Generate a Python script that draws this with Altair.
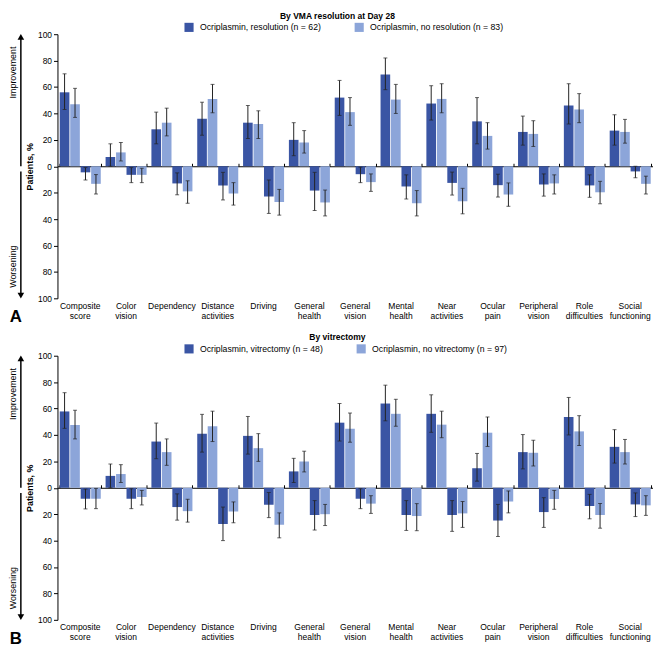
import altair as alt
import pandas as pd

categories = ["Composite score", "Color vision", "Dependency", "Distance activities",
              "Driving", "General health", "General vision", "Mental health",
              "Near activities", "Ocular pain", "Peripheral vision",
              "Role difficulties", "Social functioning"]

# ---------- Panel A: by VMA resolution at Day 28 ----------
a_labels = ["Ocriplasmin, resolution (n = 62)", "Ocriplasmin, no resolution (n = 83)"]
a_imp_dark = [56, 7, 28, 36, 33, 20, 52, 69.5, 47.5, 34, 26, 46, 27]
a_imp_dark_lo = [43, 0, 17, 23.5, 21, 8, 38.5, 58, 35, 17, 16, 32, 16]
a_imp_dark_hi = [70, 17, 41, 48.5, 46, 33, 65, 82, 61, 52, 38, 62.5, 39]
a_imp_light = [47, 10.5, 33, 51, 32, 18, 41, 50.5, 51, 23, 24.5, 43, 26]
a_imp_light_lo = [37, 4, 23, 40.5, 21, 10, 31, 40, 40.5, 13, 15, 33, 17.5]
a_imp_light_hi = [59, 18, 44, 62, 42, 27, 52, 62, 62.5, 33, 34.5, 55, 35.5]
a_wor_dark = [4.6, 6.5, 13, 14.5, 22.8, 18.4, 6, 15.3, 12.6, 14.3, 13.8, 14.5, 3.9]
a_wor_dark_lo = [1, 1, 5, 4.6, 10.4, 4.6, 0.7, 6.5, 4.4, 6, 5.8, 6.5, 0]
a_wor_dark_hi = [10.4, 12.4, 21.6, 25.5, 35.7, 33.5, 12.4, 24.8, 21.8, 23.3, 22.6, 23.5, 8.7]
a_wor_light = [13.3, 6.5, 19, 20.6, 27, 27.4, 12, 28, 26.5, 21.4, 13, 19.7, 13.3]
a_wor_light_lo = [6.3, 1.5, 11, 12.4, 17.5, 18, 5.8, 18.4, 16.7, 12.6, 6.5, 11.4, 7.5]
a_wor_light_hi = [21, 12.4, 28, 29.4, 37, 37.6, 19, 37.6, 36, 30.3, 21, 28.4, 21]

# ---------- Panel B: by vitrectomy ----------
b_labels = ["Ocriplasmin, vitrectomy (n = 48)", "Ocriplasmin, no vitrectomy (n = 97)"]
b_imp_dark = [57.8, 9, 35, 41, 39.3, 12.4, 49.3, 63.8, 56, 14.8, 27, 53.6, 31]
b_imp_dark_lo = [45, 0, 22, 27, 25.5, 4, 35.4, 50.7, 42, 5, 14.3, 40, 18.7]
b_imp_dark_hi = [72, 18, 49, 55.6, 54, 22.3, 63.8, 77.7, 70.4, 26, 40.3, 68.4, 44]
b_imp_light = [47.6, 10.4, 27, 46.6, 30, 19.9, 44.7, 56, 47.8, 41.7, 26.5, 42.7, 27]
b_imp_light_lo = [37, 4, 17, 35, 20, 12, 34.5, 46.6, 37.9, 31.3, 16.5, 32, 18]
b_imp_light_hi = [58.7, 17.5, 37, 58, 41, 27.7, 56.6, 67, 58, 53.6, 36, 54.6, 36.6]
b_wor_dark = [8.3, 8.3, 14.6, 27.4, 12.9, 20.6, 8.3, 20.6, 20.6, 24.8, 18.4, 13.8, 12.6]
b_wor_dark_lo = [1, 0.7, 4.6, 14.6, 3.6, 9.7, 0.7, 9.7, 9.7, 12.6, 7.5, 5, 3.9]
b_wor_dark_hi = [16, 15.8, 24.5, 40, 22.6, 32, 15.8, 32.3, 33, 36.9, 30, 23.5, 21.8]
b_wor_light = [8.3, 7, 17.7, 18, 28, 20, 12, 21.4, 19.4, 10.4, 8.5, 20.6, 13.3]
b_wor_light_lo = [0.5, 2, 8.7, 10.7, 19, 12.6, 6, 12, 10.4, 2.4, 2, 11.9, 6]
b_wor_light_hi = [15.8, 13, 26, 26.5, 37.9, 28.6, 19.4, 32.5, 30, 19, 16.3, 30.6, 20.9]

y_ticks = [-100, -80, -60, -40, -20, 0, 20, 40, 60, 80, 100]
DARK = "#3a55a4"
LIGHT = "#8ca5d9"
FONT = "Liberation Sans"
W, H = 602, 267


def build_df(labels, spec):
    rows = []
    for key, gi, sign, vals, los, his in spec:
        for c, v, lo, hi in zip(categories, vals, los, his):
            rows.append(dict(category=c, series=key, group=labels[gi],
                             value=sign * v, lo=sign * lo, hi=sign * hi))
    return pd.DataFrame(rows)


def panel(df, labels, title, letter):
    xscale = alt.Scale(paddingInner=0.105, paddingOuter=0.05)
    xoff = alt.XOffset("series:N", sort=["s1", "s2", "s3", "s4"],
                       scale=alt.Scale(paddingInner=0.08, paddingOuter=0))
    yscale = alt.Scale(domain=[-100, 100], nice=False)
    yaxis = alt.Axis(values=y_ticks, labelExpr="abs(datum.value)", title="Patients, %",
                     titleFontSize=9, titleFontWeight="bold", titleFont=FONT,
                     titleColor="black", titlePadding=3, labelFontSize=8.5,
                     labelColor="black", labelFont=FONT, tickColor="black",
                     tickSize=4, domainColor="black", grid=False, labelPadding=2)

    bars = alt.Chart(df).mark_bar().encode(
        x=alt.X("category:N", sort=categories, scale=xscale, title=None,
                axis=alt.Axis(orient="bottom", domain=False, ticks=False, labelAngle=0,
                              labelExpr="split(datum.label, ' ')", labelFontSize=8.6,
                              labelLineHeight=10, labelPadding=3, labelBaseline="top",
                              labelColor="black", labelFont=FONT)),
        xOffset=xoff,
        y=alt.Y("value:Q", scale=yscale, axis=yaxis),
        color=alt.Color("group:N", scale=alt.Scale(domain=labels, range=[DARK, LIGHT]),
                        legend=alt.Legend(orient="none", legendX=128, legendY=-12,
                                          direction="horizontal", columns=2, title=None,
                                          symbolType="square", symbolSize=85,
                                          symbolStrokeWidth=0, labelFontSize=8.8,
                                          labelFont=FONT, labelColor="black",
                                          columnPadding=33, labelOffset=6)),
    )

    rules = alt.Chart(df).mark_rule(color="#222222", strokeWidth=1).encode(
        x=alt.X("category:N", sort=categories, scale=xscale, title=None,
                axis=alt.Axis(orient="top", offset=-H / 2, labels=False, domain=True,
                              domainColor="black", ticks=True, tickColor="black",
                              tickBand="extent", tickSize=3, grid=False)),
        xOffset=xoff,
        y=alt.Y("lo:Q", scale=yscale, axis=yaxis),
        y2="hi:Q",
    )
    cap_lo = alt.Chart(df).mark_tick(color="#222222", thickness=1, size=4).encode(
        x=alt.X("category:N", sort=categories, scale=xscale, axis=None),
        xOffset=xoff,
        y=alt.Y("lo:Q", scale=yscale, axis=yaxis),
    )
    cap_hi = alt.Chart(df).mark_tick(color="#222222", thickness=1, size=4).encode(
        x=alt.X("category:N", sort=categories, scale=xscale, axis=None),
        xOffset=xoff,
        y=alt.Y("hi:Q", scale=yscale, axis=yaxis),
    )

    one = pd.DataFrame({"k": [0]})
    AX = -37
    arrow_up = alt.Chart(one).mark_rule(color="black", strokeWidth=1.5).encode(
        x=alt.value(AX), y=alt.YDatum(97, axis=yaxis), y2=alt.Y2Datum(0))
    arrow_dn = alt.Chart(one).mark_rule(color="black", strokeWidth=1.5).encode(
        x=alt.value(AX), y=alt.YDatum(-4, axis=yaxis), y2=alt.Y2Datum(-97))
    head_up = alt.Chart(one).mark_point(shape="triangle-up", filled=True, size=45,
                                        color="black", opacity=1).encode(
        x=alt.value(AX), y=alt.YDatum(98, axis=yaxis))
    head_dn = alt.Chart(one).mark_point(shape="triangle-down", filled=True, size=45,
                                        color="black", opacity=1).encode(
        x=alt.value(AX), y=alt.YDatum(-98, axis=yaxis))
    imp_txt = alt.Chart(one).mark_text(text="Improvement", angle=270, fontSize=9,
                                       font=FONT, color="black").encode(
        x=alt.value(-45), y=alt.YDatum(71, axis=yaxis))
    wor_txt = alt.Chart(one).mark_text(text="Worsening", angle=270, fontSize=9,
                                       font=FONT, color="black").encode(
        x=alt.value(-45), y=alt.YDatum(-76, axis=yaxis))
    let_txt = alt.Chart(one).mark_text(text=letter, fontSize=17, fontWeight="bold",
                                       font=FONT, color="black").encode(
        x=alt.value(-42), y=alt.value(H + 19))

    return alt.layer(bars, rules, cap_lo, cap_hi, arrow_up, arrow_dn, head_up, head_dn,
                     imp_txt, wor_txt, let_txt).resolve_axis(x="independent").properties(
        width=W, height=H,
        title=alt.TitleParams(title, fontSize=8.6, fontWeight="bold", font=FONT,
                              anchor="middle", dx=-18, offset=2, color="black"))


df_a = build_df(a_labels, [
    ("s1", 0, 1, a_imp_dark, a_imp_dark_lo, a_imp_dark_hi),
    ("s2", 1, 1, a_imp_light, a_imp_light_lo, a_imp_light_hi),
    ("s3", 0, -1, a_wor_dark, a_wor_dark_lo, a_wor_dark_hi),
    ("s4", 1, -1, a_wor_light, a_wor_light_lo, a_wor_light_hi),
])
df_b = build_df(b_labels, [
    ("s1", 0, 1, b_imp_dark, b_imp_dark_lo, b_imp_dark_hi),
    ("s2", 1, 1, b_imp_light, b_imp_light_lo, b_imp_light_hi),
    ("s3", 0, -1, b_wor_dark, b_wor_dark_lo, b_wor_dark_hi),
    ("s4", 1, -1, b_wor_light, b_wor_light_lo, b_wor_light_hi),
])

chart = alt.vconcat(
    panel(df_a, a_labels, "By VMA resolution at Day 28", "A"),
    panel(df_b, b_labels, "By vitrectomy", "B"),
    spacing=8,
).resolve_scale(color="independent").resolve_legend(color="independent").properties(
    padding=0
).configure(font=FONT).configure_view(stroke=None)

chart.save("out.html", embed_options={"renderer": "svg", "actions": False})
